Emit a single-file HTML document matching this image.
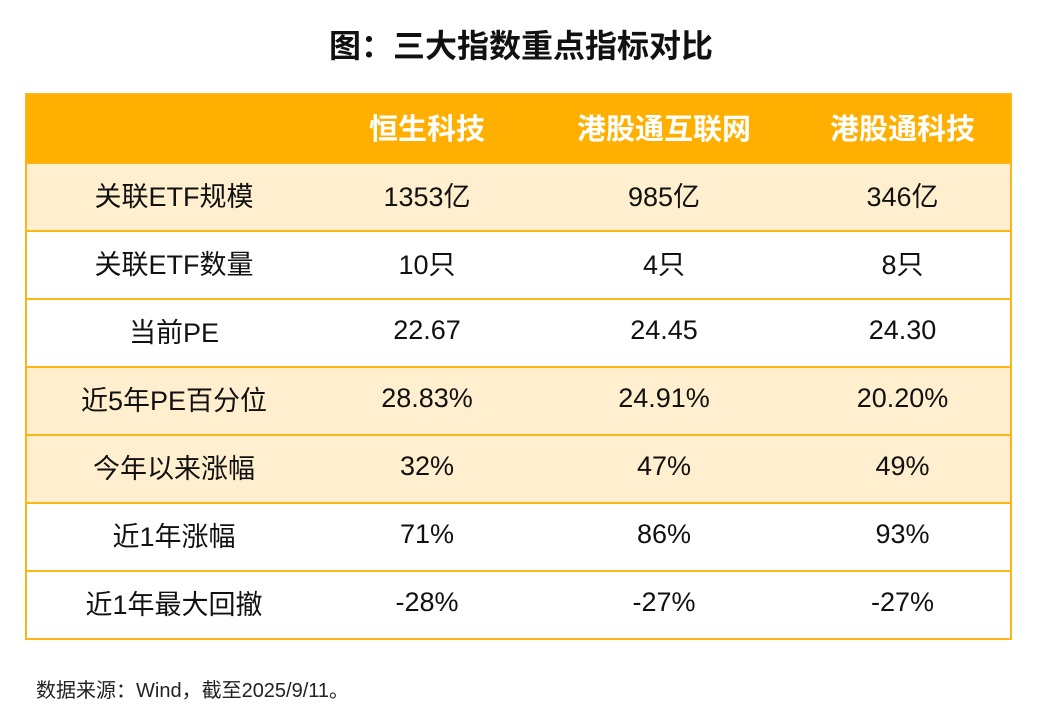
<!DOCTYPE html>
<html><head><meta charset="utf-8"><style>
body{margin:0;width:1042px;height:720px;background:#fff;font-family:"Liberation Sans","Noto Sans CJK SC",sans-serif;position:relative;overflow:hidden}
#title{position:absolute;top:21px;left:0;width:1042px;text-align:center;font-size:32px;font-weight:bold;color:#111}
#tbl{position:absolute;left:25px;top:93px;width:987px;border:2px solid #FDB515;box-sizing:border-box}
.row{display:flex;height:68px;border-top:2px solid #FDB515;box-sizing:border-box;align-items:center;padding-bottom:6px}
.row.h{height:67px;border-top:none;background:#FFAF00;color:#fff;font-weight:bold;font-size:28px;padding-bottom:4px}
.row.b{background:#FFEFCF}
.c{text-align:center;font-size:27px;color:#111}
.h .c{color:#fff;font-size:29px}
.c0{width:294px}.c1{width:212px}.c2{width:262px}.c3{width:215px}
#foot{position:absolute;left:36px;top:674px;font-size:20px;color:#222}
</style></head><body>
<div id="title">图：三大指数重点指标对比</div>
<div id="tbl">
<div class="row h"><div class="c c0"></div><div class="c c1">恒生科技</div><div class="c c2">港股通互联网</div><div class="c c3">港股通科技</div></div>
<div class="row b"><div class="c c0">关联ETF规模</div><div class="c c1">1353亿</div><div class="c c2">985亿</div><div class="c c3">346亿</div></div>
<div class="row"><div class="c c0">关联ETF数量</div><div class="c c1">10只</div><div class="c c2">4只</div><div class="c c3">8只</div></div>
<div class="row"><div class="c c0">当前PE</div><div class="c c1">22.67</div><div class="c c2">24.45</div><div class="c c3">24.30</div></div>
<div class="row b"><div class="c c0">近5年PE百分位</div><div class="c c1">28.83%</div><div class="c c2">24.91%</div><div class="c c3">20.20%</div></div>
<div class="row b"><div class="c c0">今年以来涨幅</div><div class="c c1">32%</div><div class="c c2">47%</div><div class="c c3">49%</div></div>
<div class="row"><div class="c c0">近1年涨幅</div><div class="c c1">71%</div><div class="c c2">86%</div><div class="c c3">93%</div></div>
<div class="row"><div class="c c0">近1年最大回撤</div><div class="c c1">-28%</div><div class="c c2">-27%</div><div class="c c3">-27%</div></div>
</div>
<div id="foot">数据来源：Wind，截至2025/9/11。</div>
</body></html>
